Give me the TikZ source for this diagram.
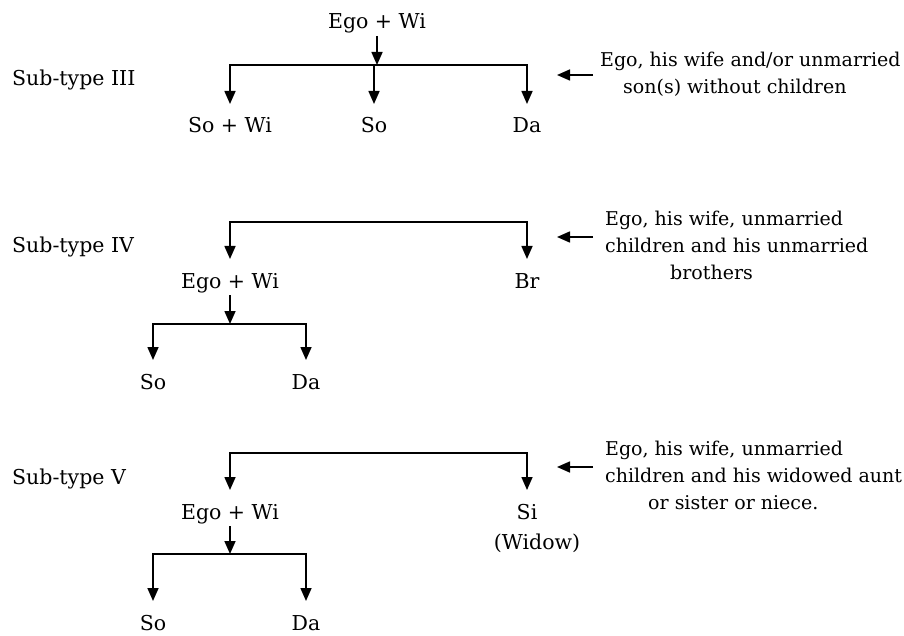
\documentclass[tikz,border=0pt]{standalone}
\usepackage{fontspec}
\setmainfont{DejaVu Serif}
\usetikzlibrary{arrows.meta}
\begin{document}
\begin{tikzpicture}[x=1pt,y=-1pt,
  lbl/.style={font=\fontsize{20.5}{24}\selectfont, inner sep=0pt, anchor=base},
  title/.style={lbl, anchor=base west},
  note/.style={font=\fontsize{19}{26.8}\selectfont, inner sep=0pt, align=left, anchor=north west},
  line/.style={line width=1.6pt, line join=miter},
  conn/.style={line, -{Triangle[length=13pt,width=11pt]}},
  tip/.style={yshift=29pt},
  tail/.style={yshift=-7pt}
]
\useasboundingbox (0,0) rectangle (904,636);

% ---------------- Sub-type III ----------------
\node[title] (titleIII) at (12,86) {Sub-type III};
\node[lbl] (egoIII) at (377,29) {Ego + Wi};
\node[lbl] (sowiIII) at (230,133) {So + Wi};
\node[lbl] (soIII) at (374,133) {So};
\node[lbl] (daIII) at (527,133) {Da};
\coordinate (barIII) at (377,65);
\draw[conn] ([tail]egoIII.base) -- (barIII);
\draw[conn] (barIII) -| ([tip]sowiIII.base);
\draw[conn] (barIII) -| ([tip]daIII.base);
\draw[conn] (barIII -| soIII) -- ([tip]soIII.base);
\node[note] (noteIII) at (600,52) {Ego, his wife and/or unmarried\\\hspace*{23pt}son(s) without children};
\coordinate (ptIII) at (557,75);
\draw[conn] (noteIII.west |- ptIII) ++(-7pt,0) coordinate (stIII) -- (ptIII);

% ---------------- Sub-type IV ----------------
\node[title] (titleIV) at (12,252) {Sub-type IV};
\node[lbl] (egoIV) at (230,288) {Ego + Wi};
\node[lbl] (brIV) at (527,288) {Br};
\node[lbl] (soIV) at (153,389) {So};
\node[lbl] (daIV) at (306,389) {Da};
\coordinate (topIV) at (380,222);
\draw[conn] (topIV) -| ([tip]egoIV.base);
\draw[conn] (topIV) -| ([tip]brIV.base);
\coordinate (barIV) at (230,324);
\draw[conn] ([tail]egoIV.base) -- (barIV);
\draw[conn] (barIV) -| ([tip]soIV.base);
\draw[conn] (barIV) -| ([tip]daIV.base);
\node[note] (noteIV) at (605,211) {Ego, his wife, unmarried\\children and his unmarried\\\hspace*{65pt}brothers};
\coordinate (ptIV) at (557,237);
\draw[conn] (noteIV.west |- ptIV) ++(-12pt,0) coordinate (stIV) -- (ptIV);

% ---------------- Sub-type V ----------------
\node[title] (titleV) at (12,484) {Sub-type V};
\node[lbl] (egoV) at (230,519) {Ego + Wi};
\node[lbl] (siV) at (527,519) {Si};
\node[lbl] (widV) at (537,549) {(Widow)};
\node[lbl] (soV) at (153,630) {So};
\node[lbl] (daV) at (306,630) {Da};
\coordinate (topV) at (380,453);
\draw[conn] (topV) -| ([tip]egoV.base);
\draw[conn] (topV) -| ([tip]siV.base);
\coordinate (barV) at (230,554);
\draw[conn] ([tail]egoV.base) -- (barV);
\draw[conn] (barV) -| ([tip]soV.base);
\draw[conn] (barV) -| ([tip]daV.base);
\node[note] (noteV) at (605,441) {Ego, his wife, unmarried\\children and his widowed aunt\\\hspace*{43pt}or sister or niece.};
\coordinate (ptV) at (557,467);
\draw[conn] (noteV.west |- ptV) ++(-12pt,0) coordinate (stV) -- (ptV);
\end{tikzpicture}
\end{document}
